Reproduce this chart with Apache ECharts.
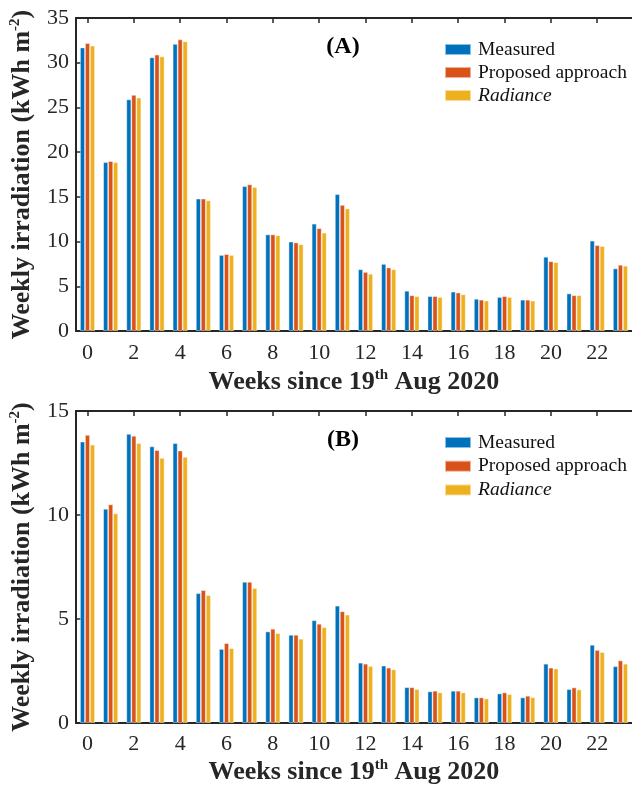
<!DOCTYPE html>
<html>
<head>
<meta charset="utf-8">
<script src="https://cdn.jsdelivr.net/npm/echarts@6/dist/echarts.min.js"></script>
<style>
html,body{margin:0;padding:0;background:#fff;}
#chart{width:632px;height:787px;}
</style>
</head>
<body>
<div id="chart"></div>
<script>
const weeks = ['0','1','2','3','4','5','6','7','8','9','10','11','12','13','14','15','16','17','18','19','20','21','22','23'];
const seriesNames = ['Measured', 'Proposed approach', 'Radiance'];
const colors = ['#0072BD', '#D95319', '#EDB120'];

const measuredA = [31.7, 18.9, 25.9, 30.6, 32.1, 14.8, 8.5, 16.2, 10.8, 10.0, 12.0, 15.3, 6.9, 7.5, 4.5, 3.9, 4.4, 3.6, 3.8, 3.5, 8.3, 4.2, 10.1, 7.0];
const proposedA = [32.2, 19.0, 26.4, 30.9, 32.6, 14.8, 8.6, 16.4, 10.8, 9.9, 11.5, 14.1, 6.6, 7.1, 4.0, 3.9, 4.3, 3.5, 3.9, 3.5, 7.8, 4.0, 9.6, 7.4];
const radianceA = [31.9, 18.9, 26.1, 30.7, 32.4, 14.6, 8.5, 16.1, 10.7, 9.7, 11.0, 13.7, 6.4, 6.9, 3.9, 3.8, 4.1, 3.4, 3.8, 3.4, 7.7, 4.0, 9.5, 7.3];

const measuredB = [13.53, 10.3, 13.9, 13.3, 13.46, 6.24, 3.56, 6.79, 4.4, 4.24, 4.94, 5.64, 2.9, 2.76, 1.72, 1.52, 1.55, 1.23, 1.42, 1.23, 2.85, 1.63, 3.76, 2.73];
const proposedB = [13.85, 10.51, 13.81, 13.12, 13.1, 6.39, 3.84, 6.79, 4.53, 4.24, 4.77, 5.37, 2.85, 2.66, 1.72, 1.55, 1.55, 1.23, 1.47, 1.31, 2.66, 1.71, 3.51, 3.01];
const radianceB = [13.38, 10.08, 13.46, 12.75, 12.8, 6.15, 3.6, 6.49, 4.32, 4.05, 4.61, 5.21, 2.74, 2.58, 1.63, 1.47, 1.47, 1.18, 1.39, 1.24, 2.62, 1.61, 3.41, 2.85];

const yTicksA = {min: 0, max: 35, interval: 5};
const yTicksB = {min: 0, max: 15, interval: 5};

const FONT = '"Liberation Serif", "Times New Roman", serif';
const AX = '#262626';

const supRich = {
  sup: {fontSize: 15, lineHeight: 15, verticalAlign: 'top', fontWeight: 'bold', fontFamily: FONT, color: '#262626'}
};

function xAxes(gridIndex, labelMargin, nameGap) {
  return [
    {
      type: 'category', gridIndex: gridIndex, data: weeks, boundaryGap: true,
      axisLine: {show: true, lineStyle: {color: AX, width: 2}},
      axisTick: {show: true, inside: true, alignWithLabel: true, interval: 1, length: 5, lineStyle: {color: AX, width: 1.5}},
      axisLabel: {interval: 1, margin: labelMargin, fontFamily: FONT, fontSize: 22, color: '#262626'},
      name: 'Weeks since 19{sup|th} Aug 2020',
      nameLocation: 'middle', nameGap: nameGap,
      nameTextStyle: {fontFamily: FONT, fontSize: 26, fontWeight: 'bold', color: '#262626', lineHeight: 28, rich: supRich}
    },
    {
      type: 'category', gridIndex: gridIndex, data: weeks, boundaryGap: true, position: 'top',
      axisLine: {show: true, lineStyle: {color: AX, width: 2}},
      axisTick: {show: true, inside: true, alignWithLabel: true, interval: 1, length: 5, lineStyle: {color: AX, width: 1.5}},
      axisLabel: {show: false}
    }
  ];
}

function yAxis(gridIndex, ticks) {
  return {
    type: 'value', gridIndex: gridIndex, min: ticks.min, max: ticks.max, interval: ticks.interval,
    splitLine: {show: false},
    axisLine: {show: true, lineStyle: {color: AX, width: 2}},
    axisTick: {show: true, inside: true, length: 5, lineStyle: {color: AX, width: 1.5}},
    axisLabel: {margin: 7, fontFamily: FONT, fontSize: 22, color: '#262626'},
    name: 'Weekly irradiation (kWh m{sup|-2})',
    nameLocation: 'middle', nameGap: 39, nameRotate: 90,
    nameTextStyle: {fontFamily: FONT, fontSize: 26, fontWeight: 'bold', color: '#262626', lineHeight: 28, rich: supRich}
  };
}

function barSeries(name, data, color, xi, yi) {
  return {
    name: name, type: 'bar', data: data, xAxisIndex: xi, yAxisIndex: yi,
    barWidth: 5, barGap: '0%',
    itemStyle: {color: color, borderColor: 'rgba(255,255,255,0.55)', borderWidth: 0.8},
    emphasis: {disabled: true},
    animation: false
  };
}

function legend(top, gap) {
  return {
    orient: 'vertical', left: 444, top: top, padding: 0, itemGap: gap,
    icon: 'rect', itemWidth: 26, itemHeight: 11,
    data: seriesNames,
    selectedMode: false,
    textStyle: {fontFamily: FONT, fontSize: 19.5, color: '#111', lineHeight: 23, padding: [0, 0, 0, 2],
      rich: {it: {fontStyle: 'italic', fontFamily: FONT, fontSize: 19.5, color: '#111', lineHeight: 23}}},
    formatter: function (n) { return n === 'Radiance' ? '{it|Radiance}' : n; }
  };
}

const chart = echarts.init(document.getElementById('chart'), null, {renderer: 'canvas'});
chart.setOption({
  backgroundColor: '#fff',
  animation: false,
  color: colors,
  grid: [
    {left: 75.5, top: 18, width: 564, height: 313, containLabel: false},
    {left: 75.5, top: 411, width: 564, height: 314, containLabel: false}
  ],
  xAxis: xAxes(0, 11, 37).concat(xAxes(1, 10, 35)),
  yAxis: [yAxis(0, yTicksA), yAxis(1, yTicksB)],
  legend: [legend(38, 0), legend(431, 0.7)],
  graphic: [
    {type: 'text', x: 343, y: 47, style: {text: '(A)', font: 'bold 24px ' + FONT, fill: '#000', align: 'center', verticalAlign: 'middle'}},
    {type: 'text', x: 343, y: 440, style: {text: '(B)', font: 'bold 24px ' + FONT, fill: '#000', align: 'center', verticalAlign: 'middle'}}
  ],
  series: [
    barSeries(seriesNames[0], measuredA, colors[0], 0, 0),
    barSeries(seriesNames[1], proposedA, colors[1], 0, 0),
    barSeries(seriesNames[2], radianceA, colors[2], 0, 0),
    barSeries(seriesNames[0], measuredB, colors[0], 2, 1),
    barSeries(seriesNames[1], proposedB, colors[1], 2, 1),
    barSeries(seriesNames[2], radianceB, colors[2], 2, 1)
  ]
});
</script>
</body>
</html>
